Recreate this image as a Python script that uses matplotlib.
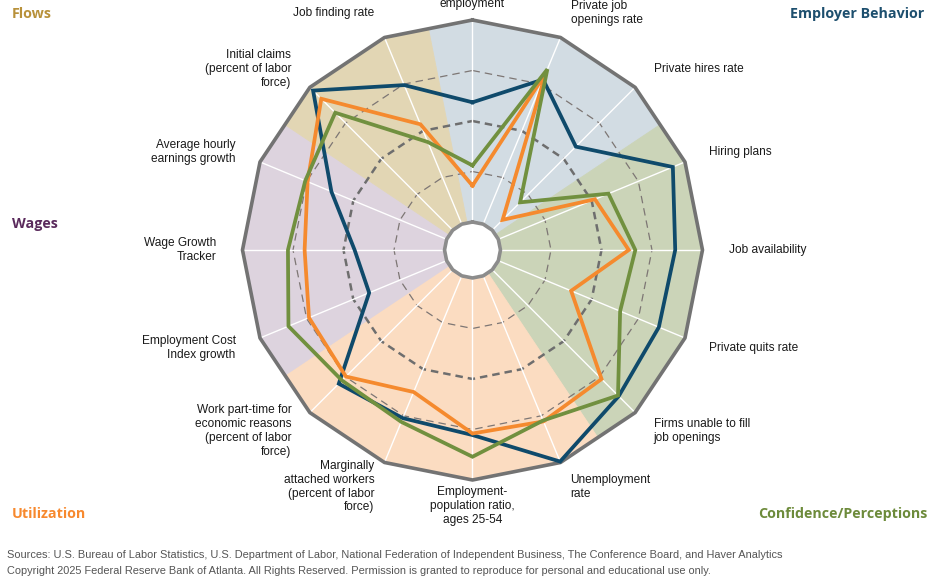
import numpy as np
import matplotlib
matplotlib.use('Agg')
import matplotlib.pyplot as plt

# spokes, clockwise from the top
indicators = ['Payroll\nemployment', 'Private job\nopenings rate', 'Private hires rate',
              'Hiring plans', 'Job availability', 'Private quits rate',
              'Firms unable to fill\njob openings', 'Unemployment\nrate',
              'Employment-\npopulation ratio,\nages 25-54',
              'Marginally\nattached workers\n(percent of labor\nforce)',
              'Work part-time for\neconomic reasons\n(percent of labor\nforce)',
              'Employment Cost\nIndex growth', 'Wage Growth\nTracker',
              'Average hourly\nearnings growth',
              'Initial claims\n(percent of labor\nforce)', 'Job finding rate']

navy_values = [2.37, 3.10, 2.34, 3.74, 3.46, 3.44, 3.54, 3.98,
               3.11, 3.05, 3.19, 1.66, 1.78, 2.47, 3.91, 2.98]
orange_values = [0.72, 3.24, 0.29, 2.07, 2.54, 1.56, 3.06, 3.12,
                 3.08, 2.49, 2.99, 2.95, 2.77, 2.98, 3.68, 2.14]
green_values = [1.12, 3.32, 0.78, 2.36, 2.67, 2.61, 3.52, 3.10,
                3.54, 3.13, 3.10, 3.39, 3.10, 3.03, 3.29, 1.76]

# category sectors: (title, first spoke, last spoke)
groups = ['Employer Behavior', 'Confidence/Perceptions', 'Utilization', 'Wages', 'Flows']
group_spokes = [(0, 2), (3, 6), (7, 10), (11, 13), (14, 15)]
group_fill = ['#d2dce3', '#cbd4b8', '#fbdcc1', '#ddd3de', '#e2d6b4']
group_text = ['#1d4f6e', '#6d8b3b', '#f7892e', '#5a2a5c', '#b8913a']

ring_max = 4
r0 = -0.554
n = len(indicators)
step = 2 * np.pi / n
theta = np.arange(n) * step

fig = plt.figure(figsize=(9.36, 5.86), dpi=100)
ax = fig.add_axes([0.2267, 0.1292, 0.5562, 0.8884], projection='polar')
ax.set_theta_zero_location('N')
ax.set_theta_direction(-1)
ax.set_rorigin(r0)
ax.set_ylim(0, 4.6)
ax.grid(False)
ax.set_xticks([])
ax.set_yticks([])
for sp in ax.spines.values():
    sp.set_visible(False)
ax.patch.set_alpha(0)

# sector backgrounds
half = np.cos(step / 2)
for (a, b), col in zip(group_spokes, group_fill):
    th = np.concatenate([[theta[a] - step / 2], theta[a:b + 1], [theta[b] + step / 2]])
    outer = [(ring_max - r0) * half + r0] + [ring_max] * (b - a + 1) + [(ring_max - r0) * half + r0]
    inner = [(0 - r0) * half + r0] + [0] * (b - a + 1) + [(0 - r0) * half + r0]
    ax.fill(np.concatenate([th, th[::-1]]), np.concatenate([outer, inner[::-1]]),
            color=col, lw=0.6, ec=col, zorder=1, clip_on=False)

closed = np.append(theta, theta[0])
# dashed rings
for lvl in [1, 3]:
    ax.plot(closed, [lvl] * (n + 1), color='#7d7674', lw=0.9, ls=(0, (6, 4)), zorder=2)
ax.plot(closed, [2] * (n + 1), color='#6e6e6e', lw=1.8, ls=(0, (3, 2)), zorder=2)

# spokes
for t in theta:
    ax.plot([t, t], [0, ring_max], color='white', lw=1.0, zorder=3)

# inner and outer frames
ax.plot(closed, [ring_max] * (n + 1), color='#737373', lw=2.6, zorder=4, clip_on=False)
ax.plot(closed, [0] * (n + 1), color='#8c8c8c', lw=2.6, zorder=4, clip_on=False)

# series
for vals, col in [(navy_values, '#0f4a6b'), (orange_values, '#f58a2e'), (green_values, '#71903f')]:
    ax.plot(closed, np.append(vals, vals[0]), color=col, lw=2.7, zorder=5,
            solid_joinstyle='miter')

# spoke labels
for i, (t, lab) in enumerate(zip(theta, indicators)):
    if i in (0, 8):
        ha = 'center'
    elif i < 8:
        ha = 'left'
    else:
        ha = 'right'
    rad = 4.46 if i == 0 else 4.52
    ax.text(t, rad, lab, ha=ha, va='center', fontsize=8.6, color='#1a1a1a',
            family=['Liberation Sans', 'DejaVu Sans'], zorder=6)

# sector titles
title_pos = [(0.987, 0.976, 'right'), (0.991, 0.123, 'right'), (0.013, 0.123, 'left'),
             (0.013, 0.618, 'left'), (0.013, 0.976, 'left')]
for name, col, (x, y, ha) in zip(groups, group_text, title_pos):
    fig.text(x, y, name, color=col, ha=ha, va='center', fontsize=10.3,
             fontweight='bold', family=['Open Sans', 'DejaVu Sans'])

foot = ['Liberation Sans Narrow', 'Liberation Sans']
fig.text(0.008, 0.053, 'Sources: U.S. Bureau of Labor Statistics, U.S. Department of Labor, '
         'National Federation of Independent Business, The Conference Board, and Haver Analytics',
         fontsize=7.9, color='#555555', va='center', family=foot)
fig.text(0.008, 0.025, 'Copyright 2025 Federal Reserve Bank of Atlanta. All Rights Reserved. '
         'Permission is granted to reproduce for personal and educational use only.',
         fontsize=7.9, color='#555555', va='center', family=foot)

fig.savefig('out.png', dpi=100)
